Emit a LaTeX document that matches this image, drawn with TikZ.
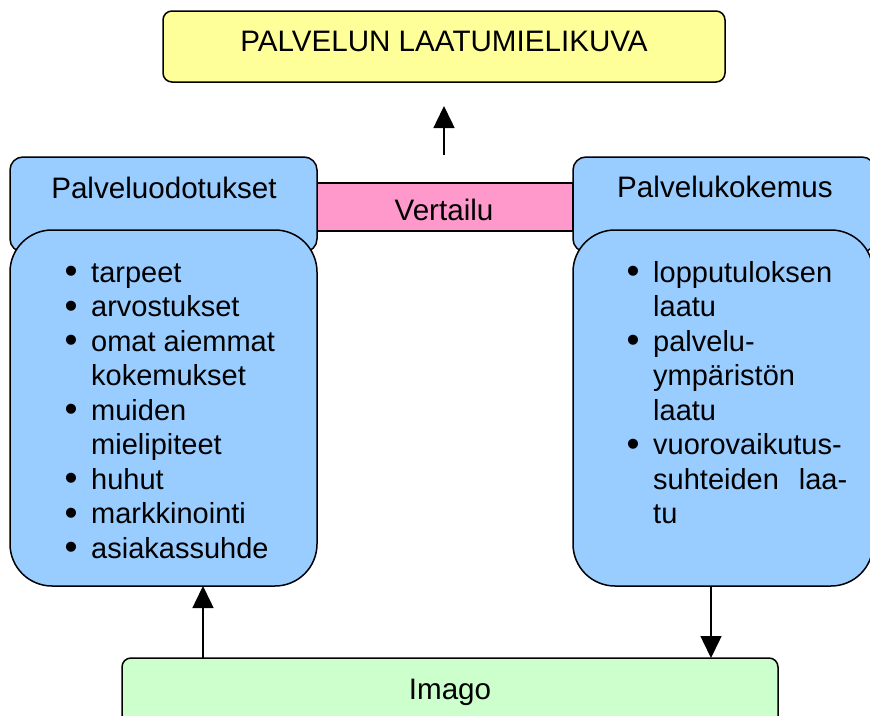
\documentclass[tikz,border=0pt]{standalone}
\usepackage{fontspec}
\setmainfont{Liberation Sans}
\usetikzlibrary{arrows.meta}
\definecolor{boxyellow}{HTML}{FFFF99}
\definecolor{boxblue}{HTML}{99CCFF}
\definecolor{boxpink}{HTML}{FF99CC}
\definecolor{boxgreen}{HTML}{CCFFCC}
\newcommand\itembul{\leavevmode\llap{\makebox[0pt][c]{\smash{\raisebox{-1.9pt}{\fontsize{37}{37}\selectfont\textbullet}}}\hspace{20pt}}}
\begin{document}
\begin{tikzpicture}[x=1pt,y=-1pt,
  frame/.style={draw=black, line width=1.5pt, inner sep=0pt, outer sep=0pt, anchor=north west},
  lbl/.style={font=\fontsize{29.6}{35}\selectfont, inner sep=0pt, anchor=base},
  listtext/.style={font=\fontsize{29}{34.5}\selectfont, inner sep=0pt, anchor=base west},
  arr/.style={line width=1.5pt, -{Triangle[width=21pt,length=22pt]}}]
\useasboundingbox (0,0) rectangle (870,715);
% top box
\node[frame, fill=boxyellow, rounded corners=9pt, minimum width=562pt, minimum height=71pt] (top) at (163,11) {};
\node[lbl] (toptext) at (444,51) {PALVELUN LAATUMIELIKUVA};
% comparison bar
\node[frame, fill=boxpink, minimum width=256pt, minimum height=48pt] (vert) at (317,183) {};
\node[lbl] (verttext) at (444,220) {Vertailu};
% header boxes
\node[frame, fill=boxblue, rounded corners=13pt, minimum width=307pt, minimum height=95pt] (lhead) at (10,157) {};
\node[frame, fill=boxblue, rounded corners=13pt, minimum width=302pt, minimum height=95pt] (rhead) at (573,157) {};
\node[lbl] (lheadtext) at (164,198) {Palveluodotukset};
\node[lbl] (rheadtext) at (725,197) {Palvelukokemus};
% body boxes
\node[frame, fill=boxblue, rounded corners=42pt, minimum width=307pt, minimum height=356pt] (lbody) at (10,230) {};
\node[frame, fill=boxblue, rounded corners=42pt, minimum width=300pt, minimum height=356pt] (rbody) at (573,230) {};
\node[listtext] (llist) at (91,282) {\parbox[t]{220pt}{\raggedright
\itembul tarpeet\\
\itembul arvostukset\\
\itembul omat aiemmat\\
kokemukset\\
\itembul muiden\\
mielipiteet\\
\itembul huhut\\
\itembul markkinointi\\
\itembul asiakassuhde}};
\node[listtext] (rlist) at (653,282) {\parbox[t]{210pt}{\raggedright
\itembul lopputuloksen\\
laatu\\
\itembul palvelu-\\
ympäristön\\
laatu\\
\itembul vuorovaikutus-\\
\leavevmode\hbox to 194pt{suhteiden\hfill laa-}\\
tu}};
% imago
\node[frame, fill=boxgreen, rounded corners=9pt, minimum width=656pt, minimum height=90pt] (imago) at (122,658) {};
\node[lbl] (imagotext) at (450,699) {Imago};
% arrows
\coordinate (upstart) at (444,155);
\coordinate (uptip) at (444,106);
\draw[arr] (upstart) -- (uptip);
\coordinate (lax) at (203,0);
\coordinate (rax) at (711,0);
\draw[arr] (imago.north -| lax) -- (lbody.south -| lax);
\draw[arr] (rbody.south -| rax) -- (imago.north -| rax);
\end{tikzpicture}
\end{document}
